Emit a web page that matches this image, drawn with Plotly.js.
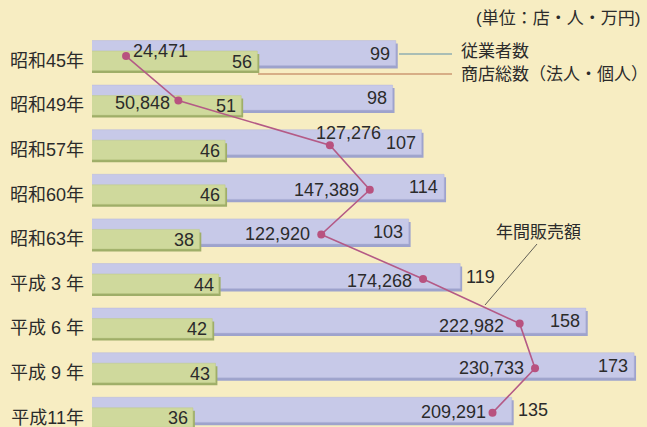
<!DOCTYPE html>
<html>
<head>
<meta charset="utf-8">
<script src="https://cdn.plot.ly/plotly-3.0.1.min.js"></script>
<style>
html,body{margin:0;padding:0;background:#f7edc2;}
#chart{width:647px;height:427px;}
</style>
</head>
<body>
<div id="chart"></div>
<script>
// ---- data ----
const years = ["昭和45年","昭和49年","昭和57年","昭和60年","昭和63年","平成 3 年","平成 6 年","平成 9 年","平成11年"];
const employees = [99, 98, 107, 114, 103, 119, 158, 173, 135];   // 従業者数
const stores = [56, 51, 46, 46, 38, 44, 42, 43, 36];             // 商店総数（法人・個人）
const sales = [24471, 50848, 127276, 147389, 122920, 174268, 222982, 230733, 209291]; // 年間販売額

// ---- style / layout helpers ----
const W = 647, H = 427, L = 92;
const FONT = "Liberation Sans, Arial, Noto Sans CJK JP, sans-serif";
const TXT = "#2b2b2b";
const NUM = 18;
const rows = years.map((_, i) => i);
const px = v => v / 44.6;                 // px -> y units
const xr = [4.66, 177];
const x2r = [7300, 287200];
const yr = [8.217, -1.357];
const pX = p => (p - L) / (W - L);        // page px -> paper x
const pY = p => 1 - p / H;                // page px -> paper y

// label placement for sales values: [xanchor, xshift, yshift]
const salesPlace = [
  ["left", 5, 5], ["right", -6, -2], ["center", 19, 12], ["right", -9, 0], ["right", -9, 0],
  ["right", -9, -2], ["right", -14, -2], ["right", -9, 0], ["right", -5, 1]
];
const empOutside = [5, 8];

const traces = [];
// employees shadow
traces.push({type:"bar", orientation:"h", y: rows, x: employees.map(v => v + 0.6), base: 0,
  offset: -px(17), width: px(25), marker:{color:"#9ea3cc"}, hoverinfo:"skip", xaxis:"x", yaxis:"y"});
traces.push({type:"bar", orientation:"h", y: rows, x: employees, base: 0,
  offset: -px(20), width: px(25), marker:{color:"#c7c9e8", line:{color:"#b4b7dc", width:0.5}}, hoverinfo:"skip"});
// stores shadow
traces.push({type:"bar", orientation:"h", y: rows, x: stores.map(v => v + 0.6), base: 0,
  offset: -px(6.5), width: px(19), marker:{color:"#9fae68"}, hoverinfo:"skip"});
traces.push({type:"bar", orientation:"h", y: rows, x: stores, base: 0,
  offset: -px(9.5), width: px(19.5), marker:{color:"#cfd99c", line:{color:"#bcc986", width:0.5}}, hoverinfo:"skip"});
// sales line
traces.push({type:"scatter", mode:"lines+markers", x: sales, y: rows.map(r => r - px(4.5)),
  xaxis:"x2", yaxis:"y", line:{color:"#b45a86", width:1.6}, marker:{color:"#b8527f", size:8},
  cliponaxis:false, hoverinfo:"skip"});

const ann = [];
employees.forEach((v, i) => {
  const out = empOutside.includes(i);
  ann.push({x: v, y: i - px(7), xref:"x", yref:"y", text: String(v), showarrow:false,
    xanchor: out ? "left" : "right", yanchor:"middle", xshift: out ? 4 : -4, font:{family:FONT, size:NUM, color:TXT}});
});
stores.forEach((v, i) => {
  ann.push({x: v, y: i + px(1), xref:"x", yref:"y", text: String(v), showarrow:false,
    xanchor:"right", yanchor:"middle", xshift:-3, font:{family:FONT, size:NUM, color:TXT}});
});
sales.forEach((v, i) => {
  const p = salesPlace[i];
  ann.push({x: v, y: i - px(4.5), xref:"x2", yref:"y", text: v.toLocaleString("en-US"), showarrow:false,
    xanchor: p[0], yanchor:"middle", xshift: p[1], yshift: p[2], font:{family:FONT, size:NUM, color:TXT}});
});
// legend texts
const lg = (x, y, xa, t, s) => ({x: pX(x), y: pY(y), xref:"paper", yref:"paper", xanchor:xa, yanchor:"middle",
  text:t, showarrow:false, font:{family:FONT, size:s, color:TXT}});
ann.push(lg(642, 18, "right", "(単位：店・人・万円)", 17));
ann.push(lg(459, 51, "left", "従業者数", 17));
ann.push(lg(459, 75, "left", "商店総数（法人・個人）", 17));
ann.push(lg(538, 232, "center", "年間販売額", 17));

const shapes = [
  {type:"line", xref:"paper", yref:"paper", x0:pX(399), x1:pX(452), y0:pY(54), y1:pY(54), line:{color:"#5f8fa8", width:1.2}},
  {type:"line", xref:"paper", yref:"paper", x0:pX(258), x1:pX(452), y0:pY(74), y1:pY(74), line:{color:"#b8704a", width:1.2}},
  {type:"line", xref:"paper", yref:"paper", x0:pX(537), x1:pX(485), y0:pY(244), y1:pY(305), line:{color:"#3a3a3a", width:0.8}}
];

const layout = {
  width: W, height: H,
  margin:{l:L, r:0, t:0, b:0},
  paper_bgcolor:"#f7edc2", plot_bgcolor:"rgba(0,0,0,0)",
  barmode:"overlay", showlegend:false,
  xaxis:{range:xr, showgrid:false, zeroline:false, showticklabels:false, ticks:"", showline:false, fixedrange:true},
  xaxis2:{range:x2r, overlaying:"x", side:"top", showgrid:false, zeroline:false, showticklabels:false, ticks:"", showline:false},
  yaxis:{range:yr, tickvals:rows, ticktext:years, showgrid:false, zeroline:false, ticks:"", showline:false,
    ticklabelstandoff:7, ticklabeloverflow:"allow", tickfont:{family:FONT, size:18, color:TXT}},
  annotations: ann, shapes: shapes
};

Plotly.newPlot("chart", traces, layout, {staticPlot:true, displayModeBar:false});
</script>
</body>
</html>
